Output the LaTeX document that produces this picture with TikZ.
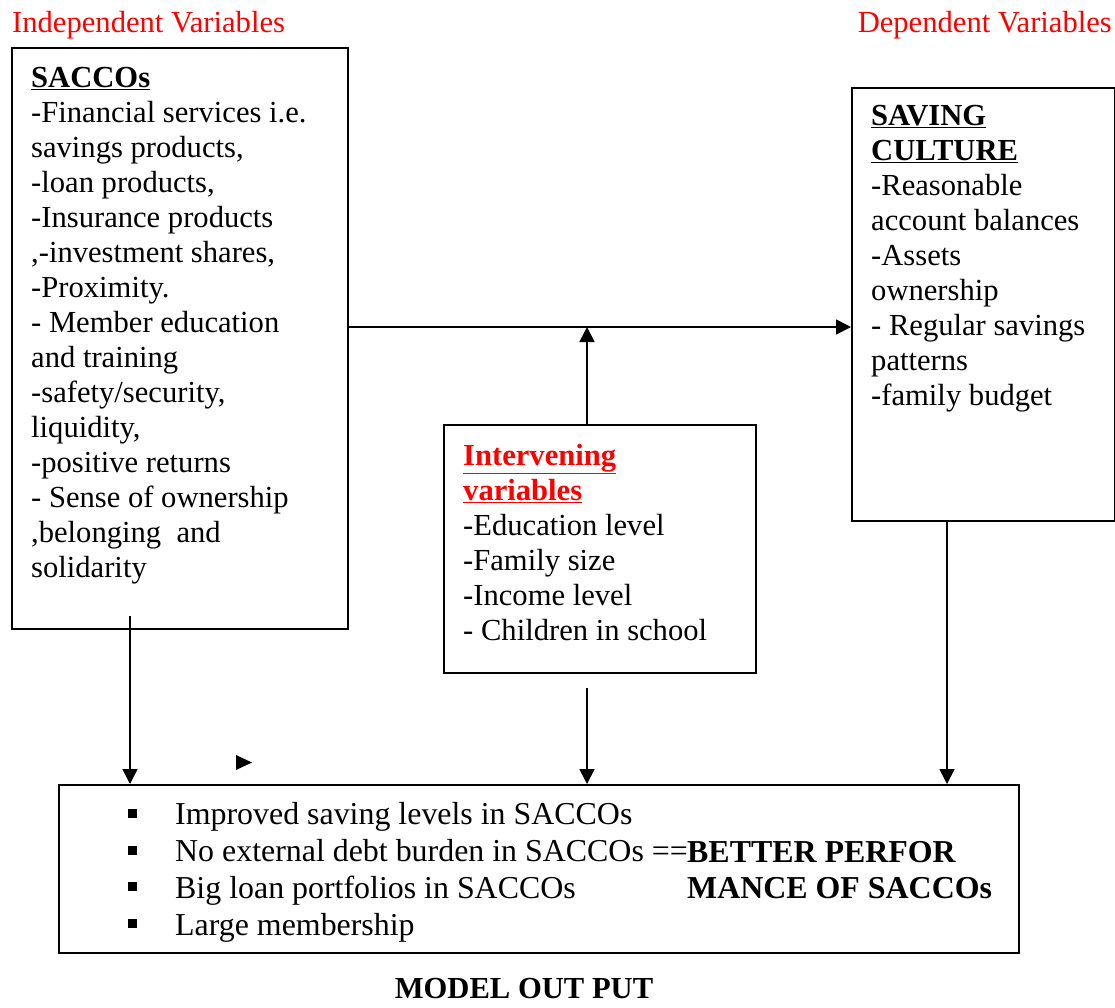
\documentclass[tikz,border=0pt]{standalone}
\usepackage{fontspec}
\setmainfont{Liberation Serif}
\usetikzlibrary{arrows.meta}
\definecolor{labelred}{RGB}{255,0,0}
\begin{document}
\begin{tikzpicture}[x=1pt,y=-1pt,
  box/.style={draw, line width=2pt, inner sep=0pt, anchor=north west},
  txt/.style={anchor=base west, align=left, inner sep=0pt, font=\fontsize{30.6}{35}\selectfont},
  btxt/.style={anchor=base west, align=left, inner sep=0pt, font=\fontsize{31.9}{36.7}\selectfont},
  redlabel/.style={text=labelred, inner sep=0pt, font=\fontsize{30.6}{35}\selectfont},
  arr/.style={line width=1.7pt, -{Triangle[length=15pt,width=15pt]}}]
\useasboundingbox (0,0) rectangle (1115,1007);

% labels
\node[redlabel, anchor=base west] (indep) at (12,32) {Independent Variables};
\node[redlabel, anchor=base east] (dep) at (1112,32) {Dependent Variables};

% boxes
\node[box, minimum width=336pt, minimum height=581pt] (lbox) at (11,47) {};
\node[box, minimum width=263pt, minimum height=433pt] (rbox) at (851,87) {};
\node[box, minimum width=312pt, minimum height=248pt] (mbox) at (443,424) {};
\node[box, minimum width=960pt, minimum height=168pt] (obox) at (58,784) {};

% texts (base anchor = baseline of the last line)
\node[txt] (ltxt) at (31,577) {\textbf{\underline{SACCOs}}\\
-Financial services i.e.\\
savings products,\\
-loan products,\\
-Insurance products\\
,-investment shares,\\
-Proximity.\\
- Member education\\
and training\\
-safety/security,\\
liquidity,\\
-positive returns\\
- Sense of ownership\\
,belonging\ \ and\\
solidarity};

\node[txt] (rtxt) at (871,405) {\textbf{\underline{SAVING}}\\
\textbf{\underline{CULTURE}}\\
-Reasonable\\
account balances\\
-Assets\\
ownership\\
- Regular savings\\
patterns\\
-family budget};

\node[txt] (mtxt) at (463,640) {\color{labelred}\textbf{\underline{Intervening}}\\
\color{labelred}\textbf{\underline{variables}}\\
-Education level\\
-Family size\\
-Income level\\
- Children in school};

\node[btxt] (otxt) at (175,935) {Improved saving levels in SACCOs\\
No external debt burden in SACCOs ==\\
Big loan portfolios in SACCOs\\
Large membership};
\node[btxt, font=\fontsize{31.9}{36}\selectfont\bfseries] (perf) at (687,898) {BETTER PERFOR\\MANCE OF SACCOs};

% bullets
\foreach \yy in {813,850,886,923}
  \fill (128,\yy-4.5) rectangle (137,\yy+4.5);

\node[anchor=base, inner sep=0pt, font=\fontsize{30.6}{35}\selectfont\bfseries] (model) at (524,998) {MODEL OUT PUT};

% connectors
\coordinate (hstart) at (lbox.east |- 0,327);
\coordinate (hend) at (rbox.west |- 0,327);
\draw[arr] (hstart) -- (hend);
\coordinate (vtop) at (587,327);
\draw[arr] (mbox.north -| vtop) -- (vtop);
\coordinate (lstart) at (130,616);
\draw[arr] (lstart) -- (obox.north -| lstart);
\coordinate (mstart) at (587,688);
\draw[arr] (mstart) -- (obox.north -| mstart);
\coordinate (rstart) at (947,520);
\draw[arr] (rstart) -- (obox.north -| rstart);

% stray arrowhead
\fill (236,755) -- (252,762.5) -- (236,770) -- cycle;
\end{tikzpicture}
\end{document}
